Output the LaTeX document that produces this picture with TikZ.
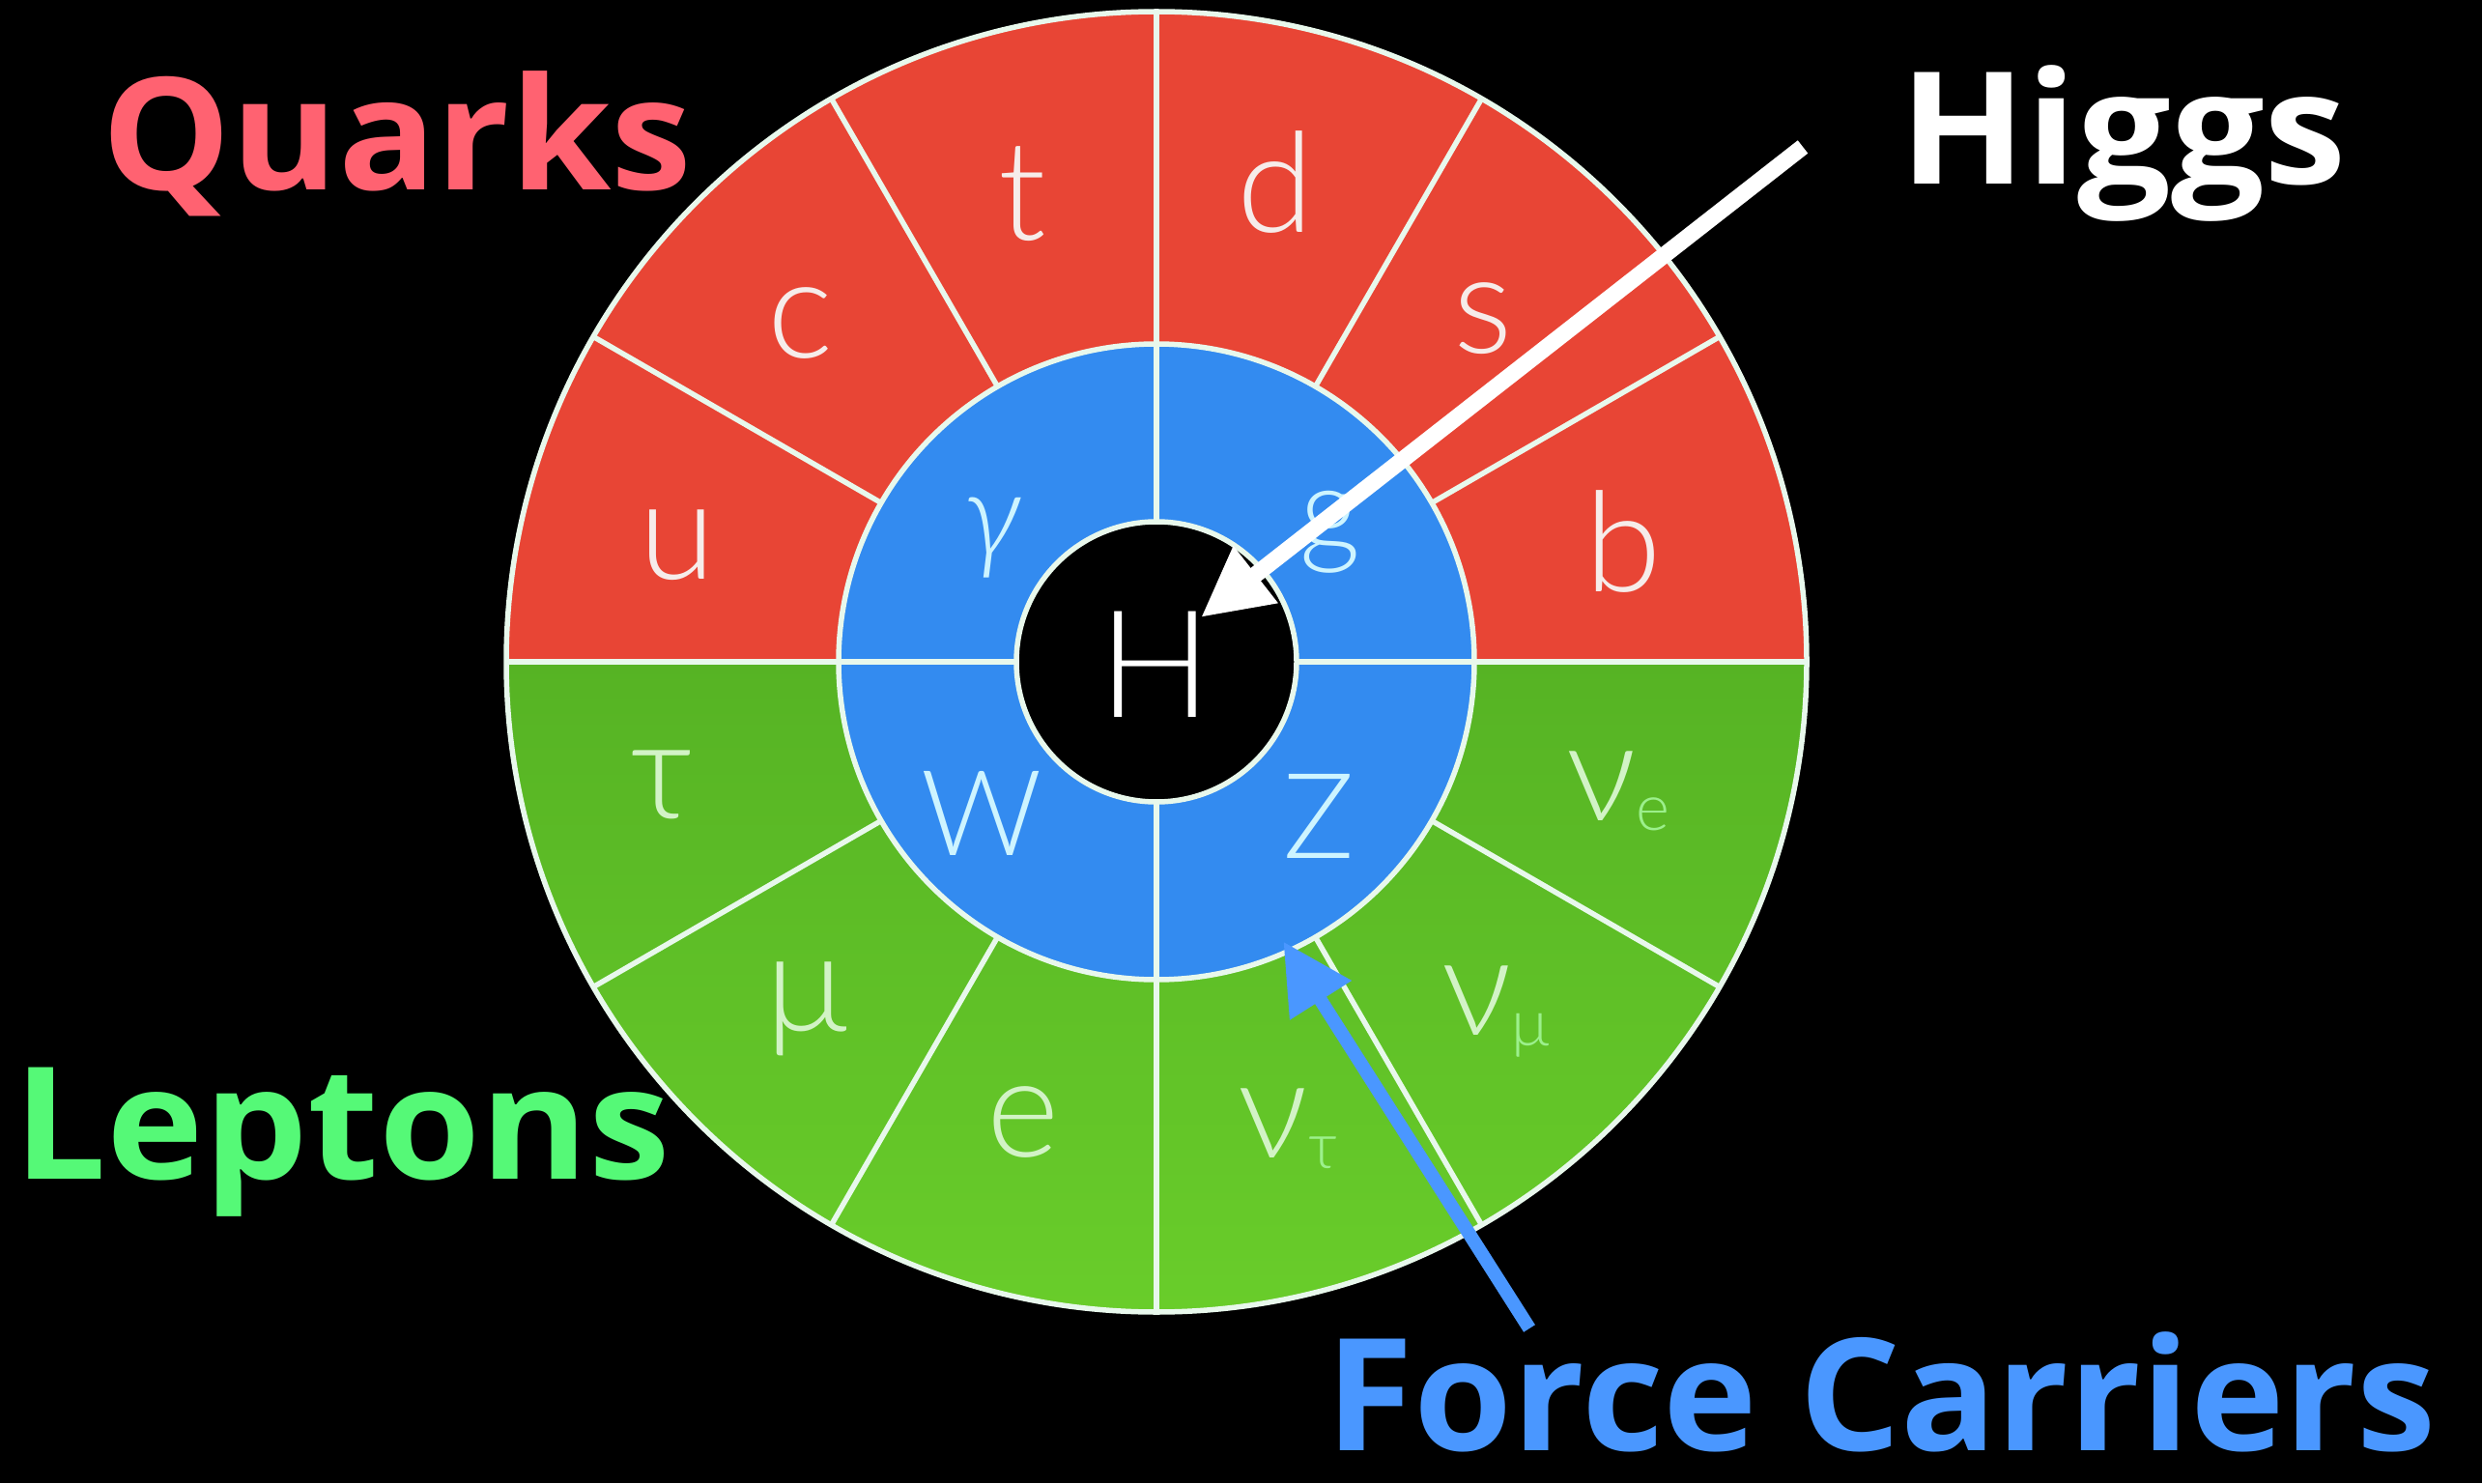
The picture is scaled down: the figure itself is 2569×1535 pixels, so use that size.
\documentclass[tikz,border=0pt]{standalone}
\usepackage{fontspec}
\usepackage{graphicx}
\usetikzlibrary{arrows.meta}
\IfFontExistsTF{Lato Light}{\newfontfamily\glyphfont{Lato Light}}{\newfontfamily\glyphfont{Lato}}
\newfontfamily\labelfont{Open Sans}
\definecolor{qred}{HTML}{E84535}
\definecolor{fblue}{HTML}{338BF0}
\definecolor{lgtop}{HTML}{56B324}
\definecolor{lgbot}{HTML}{69CD2A}
\definecolor{sepc}{HTML}{E8F8EC}
\definecolor{redtxt}{HTML}{F6ECEA}
\definecolor{bluetxt}{HTML}{CDF4FF}
\definecolor{greentxt}{HTML}{D2F3C6}
\definecolor{subtxt}{HTML}{9CF08C}
\definecolor{quarkc}{HTML}{FF6271}
\definecolor{leptonc}{HTML}{55F977}
\definecolor{forcec}{HTML}{4A97FF}
\tikzset{
  seprule/.style={draw=sepc, line width=0.55mm},
  outerletter/.style={inner sep=0pt, font=\glyphfont\fontsize{41}{41}\selectfont},
  innerletter/.style={inner sep=0pt, font=\glyphfont\fontsize{35}{35}\selectfont},
  rl/.style={outerletter, text=redtxt},
  gl/.style={outerletter, text=greentxt},
  bl/.style={innerletter, text=bluetxt},
  biglabel/.style={inner sep=0pt, anchor=base west, font=\labelfont\bfseries\fontsize{46}{47}\selectfont},
  harrow/.style={draw=white, line width=1.7mm, -{Triangle[length=7.2mm,width=7mm]}},
  farrow/.style={draw=forcec, line width=1.4mm, -{Triangle[length=7.2mm,width=7.2mm]}}
}
\newcommand{\nuwith}[1]{ν\raisebox{-3pt}{\textcolor{subtxt}{\fontsize{19}{19}\selectfont #1}}}
\begin{document}
\begin{tikzpicture}[x=0.01cm,y=0.01cm]
\fill[black] (0,0) rectangle (2569,1535);
\useasboundingbox (0,0) rectangle (2569,1535);
\coordinate (C) at (1197,850);
% rings
\fill[qred] (C) ++(0:673) arc[start angle=0,end angle=180,radius=673] -- cycle;
\shade[top color=lgtop,bottom color=lgbot] (C) ++(180:673) arc[start angle=180,end angle=360,radius=673] -- cycle;
\fill[fblue] (C) circle[radius=329];
\fill[black] (C) circle[radius=145];
\foreach \a in {30,60,120,150,210,240,300,330}
  \draw[seprule] (C) ++(\a:329) -- ++(\a:344);
\foreach \a in {0,90,180,270}
  \draw[seprule] (C) ++(\a:145) -- ++(\a:528);
\draw[seprule] (C) circle[radius=673];
\draw[seprule] (C) circle[radius=329];
\draw[seprule] (C) circle[radius=145];
% quarks
\node[rl] (u) at (701,971) {u};
\node[rl] (c) at (828,1200) {c};
\node[rl] (t) at (1058,1334) {t};
\node[rl] (d) at (1320,1346) {d};
\node[rl] (s) at (1535,1205) {s};
\node[rl] (b) at (1680,974) {b};
% leptons
\node[gl] (tau) at (685,723) {τ};
\node[gl] (mu) at (835,491) {μ};
\node[gl] (e) at (1059,373) {e};
\node[gl] (nut) at (1333,367) {\nuwith{τ}};
\node[gl] (num) at (1548,488) {\nuwith{μ}};
\node[gl] (nue) at (1675,716) {\nuwith{e}};
% force carriers
\node[bl] (gam) at (1027,978) {\itshape γ};
\node[bl] (g) at (1377,984) {g};
\node[bl] (W) at (1016,693) {W};
\node[bl] (Z) at (1365,690) {Z};
% higgs
\node[inner sep=0pt, text=white, font=\glyphfont\fontsize{44}{44}\selectfont] (H) at (1196,847) {H};
% labels
\node[biglabel, text=quarkc] (quarks) at (105,1338) {\scalebox{1.04}[1]{Quarks}};
\node[biglabel, text=white] (higgs) at (1966,1344) {\scalebox{1.06}[1]{Higgs}};
\node[biglabel, text=leptonc] (leptons) at (14,315) {\scalebox{1.05}[1]{Leptons}};
\node[biglabel, text=forcec] (force) at (1372,34) {\scalebox{1.02}[1]{Force Carriers}};
% arrows
\coordinate (htail) at (1866,1383);
\coordinate (htip) at (1243,896);
\draw[harrow] (htail) -- (htip);
\coordinate (ftail) at (1583,160);
\path (C) ++(-65.6:318) coordinate (ftip);
\draw[farrow] (ftail) -- (ftip);
\end{tikzpicture}
\end{document}
